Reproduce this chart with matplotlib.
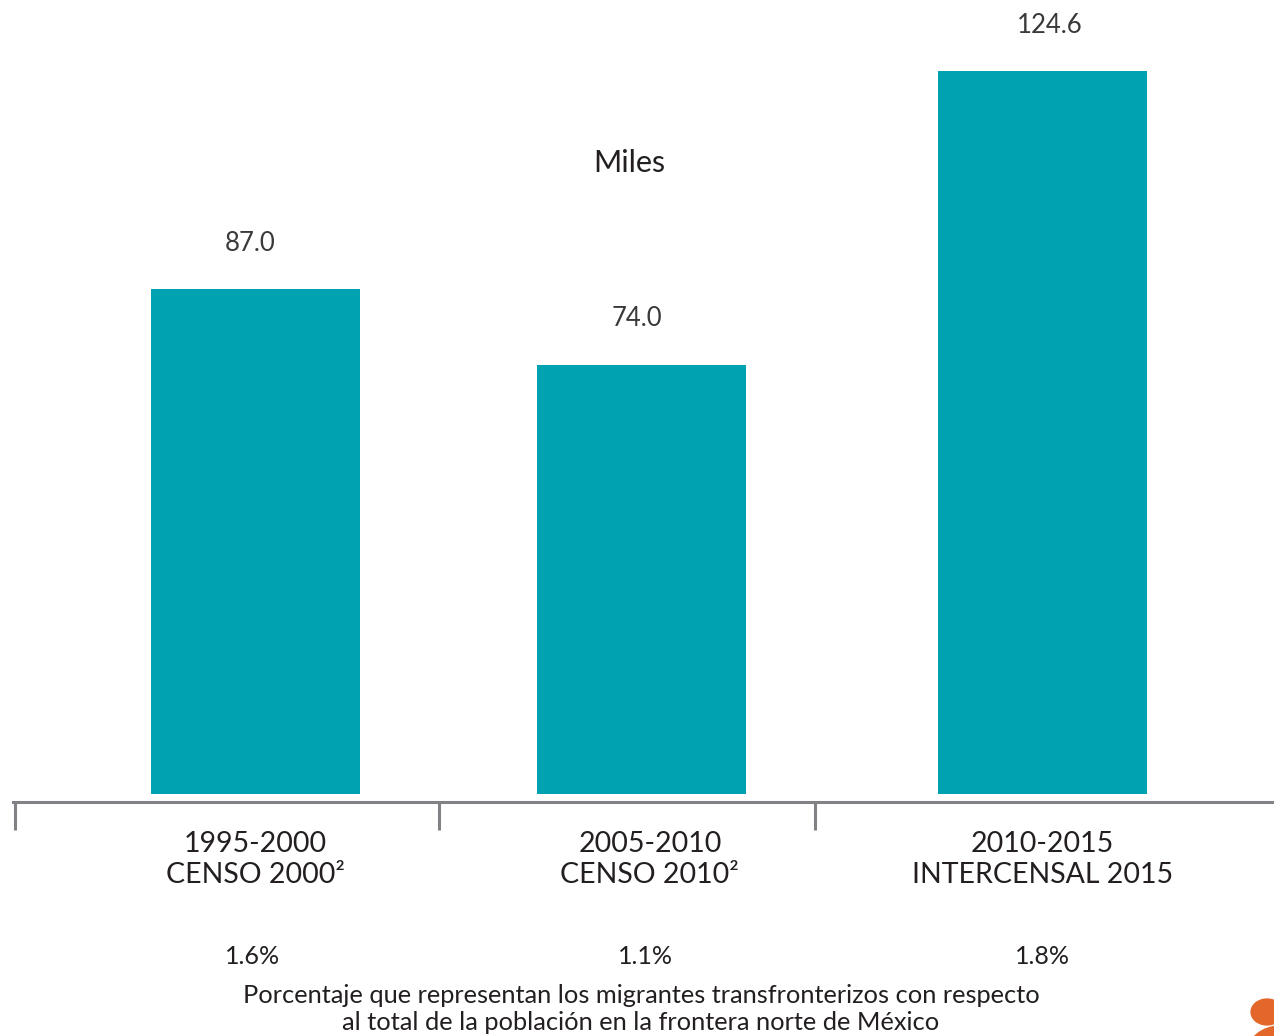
import matplotlib.pyplot as plt
from matplotlib.patches import Circle

periodos = ['1995-2000', '2005-2010', '2010-2015']
fuentes = ['CENSO 2000²', 'CENSO 2010²', 'INTERCENSAL 2015']
miles = [87.0, 74.0, 124.6]
porcentajes = ['1.6%', '1.1%', '1.8%']

color_barra = '#00A2B1'
gris = '#808285'
texto = '#231F20'

plt.rcParams['font.family'] = ['Lato', 'DejaVu Sans']

fig = plt.figure(figsize=(12.74, 10.36), dpi=100)
# axes bottom sits on the gray bracket line
ax = fig.add_axes([0, 1 - 802 / 1036, 1, 802 / 1036])

x = [0, 0.981, 2]
ax.bar(x, miles, width=0.531, color=color_barra, zorder=2)

ax.set_xlim(-0.649, 2.588)
ax.set_ylim(-1.38, 136.9)

# bracket: bottom spine with downward ticks between categories
for s in ['top', 'right', 'left']:
    ax.spines[s].set_visible(False)
ax.spines['bottom'].set_color(gris)
ax.spines['bottom'].set_linewidth(2.2)
ax.spines['bottom'].set_bounds(-0.616, 2.588)
ax.set_yticks([])
ax.set_xticks([-0.611, 0.466, 1.422])
ax.set_xticklabels([])
ax.tick_params(axis='x', direction='out', length=20, width=2.2, color=gris)

desp = [-4, -3, 5]
for xi, v, d in zip(x, miles, desp):
    ax.annotate(f'{v:.1f}', xy=(xi, v), xytext=(d, 33), textcoords='offset points',
                ha='center', va='center', fontsize=18.5, color='#3a3a3a')

desp_cat = [0, 6, 0]
for xi, per, fue, d in zip(x, periodos, fuentes, desp_cat):
    ax.annotate(per + '\n' + fue, xy=(xi, 0), xycoords=('data', 'axes fraction'),
                xytext=(d, -41.5), textcoords='offset points', ha='center', va='center',
                fontsize=20.5, color=texto, linespacing=1.25)

desp_pct = [-2, 3, 0]
for xi, p, d in zip(x, porcentajes, desp_pct):
    ax.annotate(p, xy=(xi, 0), xycoords=('data', 'axes fraction'),
                xytext=(d, -111.6), textcoords='offset points', ha='center', va='center',
                fontsize=18, color=texto)

fig.text(629 / 1274, 1 - 163 / 1036, 'Miles', ha='center', va='center',
         fontsize=22, color=texto)

fig.text(641 / 1274, 1 - 1009 / 1036,
         'Porcentaje que representan los migrantes transfronterizos con respecto\n'
         'al total de la población en la frontera norte de México',
         ha='center', va='center', fontsize=18.3, color=texto, linespacing=1.2)

# orange logo fragment in the corner
fig.patches.append(Circle((1267 / 1274, 1 - 1012 / 1036), 0.0125, transform=fig.transFigure,
                          color='#E3662A'))
fig.patches.append(Circle((1280 / 1274, 1 - 1052 / 1036), 0.025, transform=fig.transFigure,
                          color='#E3662A'))

fig.savefig('out.png', dpi=100)
